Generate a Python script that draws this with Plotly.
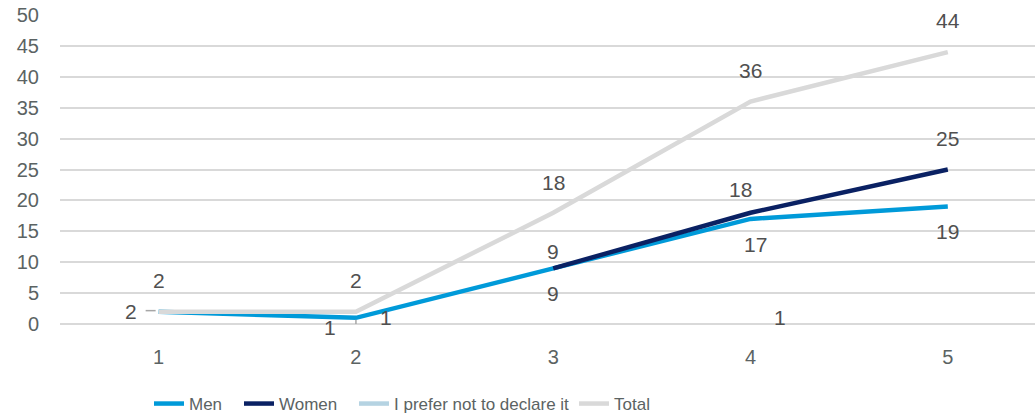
import plotly.graph_objects as go

# Survey responses by category
categories = [1, 2, 3, 4, 5]
men = [2, 1, 9, 17, 19]
women = [None, None, 9, 18, 25]
prefer_not = [None, 1, None, 1, None]
total = [2, 2, 18, 36, 44]

series = [
    ("Men", men, "#009ad9"),
    ("Women", women, "#0a2163"),
    ("I prefer not to declare it", prefer_not, "#b5d3e2"),
    ("Total", total, "#d9d9d9"),
]

# label placement per series/point: (dx, dy) screen pixels, dy positive down
label_offsets = {
    "Men": {0: (-28, 0), 1: (-26, 10), 2: (0, 25), 3: (5, 26), 4: (0, 25)},
    "Women": {2: (0, -17), 3: (-10, -23), 4: (0, -31)},
    "I prefer not to declare it": {1: (30, 0), 3: (29, 0)},
    "Total": {0: (0, -31), 1: (0, -31), 2: (0, -30), 3: (0, -31), 4: (0, -32)},
}

# left edge (px) of each legend entry along the bottom row
legend_left_px = [155, 245, 360, 580]

LABEL_FONT = dict(family="Liberation Sans, Arial, sans-serif", size=21, color="#505050")
TICK_FONT = dict(family="Liberation Sans, Arial, sans-serif", size=20, color="#5b6363")
LEGEND_FONT = dict(family="Liberation Sans, Arial, sans-serif", size=17, color="#5b6363")

W, H = 1035, 416

fig = go.Figure()
annotations = []
legend_layouts = {}
for k, (name, vals, color) in enumerate(series):
    legend_id = "legend" if k == 0 else f"legend{k + 1}"
    fig.add_trace(go.Scatter(
        x=categories, y=vals, name=name, mode="lines",
        line=dict(color=color, width=4.5),
        connectgaps=False, hoverinfo="skip", legend=legend_id,
    ))
    legend_layouts[legend_id] = dict(
        orientation="h", xref="container", yref="container",
        x=(legend_left_px[k] - 6) / W, xanchor="left",
        y=1 - 404 / H, yanchor="middle",
        font=LEGEND_FONT, itemwidth=30, bgcolor="rgba(0,0,0,0)",
    )
    for i, v in enumerate(vals):
        if v is None or i not in label_offsets[name]:
            continue
        dx, dy = label_offsets[name][i]
        annotations.append(dict(
            x=categories[i], y=v, xref="x", yref="y", text=str(v),
            showarrow=False, xanchor="center", yanchor="middle",
            xshift=dx, yshift=-dy, font=LABEL_FONT,
        ))

# leader lines for the displaced Men labels
leader = dict(color="#a6a6a6", width=1.5)
shapes = [
    dict(type="line", xref="x", yref="y", xsizemode="pixel", ysizemode="pixel",
         xanchor=categories[0], yanchor=men[0], x0=-13, x1=-3, y0=1, y1=1, line=leader),
    dict(type="line", xref="x", yref="y", xsizemode="pixel", ysizemode="pixel",
         xanchor=categories[1], yanchor=men[1], x0=-12, x1=0, y0=-10, y1=-10, line=leader),
    dict(type="line", xref="x", yref="y", xsizemode="pixel", ysizemode="pixel",
         xanchor=categories[1], yanchor=men[1], x0=0, x1=0, y0=-10, y1=-2, line=leader),
]

fig.update_layout(
    width=W, height=H,
    margin=dict(l=60, r=0, t=15, b=92),
    paper_bgcolor="white", plot_bgcolor="white",
    showlegend=True,
    annotations=annotations,
    shapes=shapes,
    xaxis=dict(
        range=[0.5, 5.442], tickvals=categories, ticktext=[str(c) for c in categories],
        showgrid=False, zeroline=False, showline=False, ticks="",
        tickfont=TICK_FONT, ticklabelstandoff=19,
    ),
    yaxis=dict(
        range=[0, 50], dtick=5, tick0=0,
        showgrid=True, gridcolor="#d9d9d9", gridwidth=1.5,
        zeroline=True, zerolinecolor="#d9d9d9", zerolinewidth=1.5,
        showline=False, ticks="", tickfont=TICK_FONT, ticklabelstandoff=20,
    ),
)
fig.update_layout(**legend_layouts)

fig.write_html("out.html")
